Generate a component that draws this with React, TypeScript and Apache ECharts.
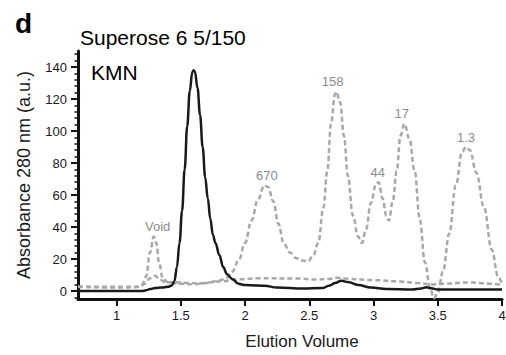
import React, { useEffect, useRef } from "react";
import * as echarts from "echarts";

// KMN sample (black solid)
const kmnX = [0.7, 1.0, 1.2, 1.23, 1.26, 1.3, 1.35, 1.4, 1.43, 1.45, 1.47, 1.49, 1.51, 1.53, 1.55, 1.57, 1.59, 1.6, 1.61, 1.63, 1.65, 1.67, 1.69, 1.71, 1.73, 1.75, 1.77, 1.8, 1.83, 1.86, 1.9, 1.95, 2.0, 2.1, 2.15, 2.25, 2.45, 2.6, 2.66, 2.7, 2.75, 2.8, 2.88, 2.98, 3.1, 3.3, 3.37, 3.41, 3.45, 3.5, 3.7, 4.0];
const kmnY = [0, 0, 0, 0.4, 1.2, 1.8, 2.2, 2.6, 3.5, 6, 15, 30, 50, 76, 103, 125, 137, 138, 137, 127, 110, 90, 71, 58, 45, 35, 30, 22.5, 15, 10.5, 7.5, 4.5, 3.7, 3.4, 3.3, 2.2, 1.5, 1.8, 3.5, 5, 6.4, 5.6, 3.8, 2.2, 1.3, 1.0, 1.6, 2.4, 1.7, 1.0, 0.9, 0.9];

// Gel filtration standards (grey dashed)
const stdX = [0.7, 1.0, 1.15, 1.2, 1.23, 1.26, 1.29, 1.31, 1.33, 1.36, 1.4, 1.45, 1.5, 1.6, 1.7, 1.8, 1.85, 1.9, 1.95, 2.0, 2.05, 2.1, 2.15, 2.18, 2.22, 2.26, 2.3, 2.35, 2.4, 2.45, 2.49, 2.53, 2.57, 2.61, 2.64, 2.67, 2.7, 2.71, 2.74, 2.77, 2.8, 2.84, 2.88, 2.91, 2.94, 2.98, 3.02, 3.04, 3.07, 3.1, 3.12, 3.15, 3.18, 3.21, 3.24, 3.28, 3.32, 3.36, 3.4, 3.44, 3.47, 3.5, 3.54, 3.59, 3.64, 3.69, 3.72, 3.75, 3.8, 3.86, 3.92, 3.97, 4.0];
const stdY = [2.5, 2.2, 2.3, 4, 9, 24, 34, 30, 18, 8, 5.5, 4.8, 4.5, 4.2, 5, 6.5, 8, 12, 19, 30, 44, 57, 66, 65, 56, 42, 30, 24, 20.5, 19, 18.5, 22, 30, 52, 75, 105, 123, 124.5, 118, 97, 72, 47, 34, 30, 38, 55, 67, 68, 58, 47, 44, 56, 75, 97, 104.5, 95, 75, 45, 18, 2, -4.5, -1, 12, 36, 66, 87, 90, 88, 74, 52, 26, 9, 4];

// Buffer baseline (grey dashed)
const baseX = [0.7, 1.0, 1.18, 1.22, 1.26, 1.3, 1.34, 1.38, 1.45, 1.55, 1.65, 1.8, 1.95, 2.1, 2.4, 2.55, 2.65, 2.72, 2.8, 3.0, 3.2, 3.35, 3.45, 3.55, 3.75, 3.9, 4.0];
const baseY = [2.8, 2.6, 2.6, 4.5, 8, 9.5, 7, 5.5, 5.5, 5, 4.8, 6, 7.3, 8, 7.8, 7.2, 7.5, 8.3, 7.6, 6.8, 6, 5, 4, 4.6, 5.4, 4.6, 3.8];

// Peak annotations
const peakNames = ["Void", "670", "158", "44", "17", "1.3"];
const peakX = [1.32, 2.17, 2.682, 3.033, 3.219, 3.72];
const peakY = [34, 66, 124.5, 68, 104.5, 90];

const xTicks = [1, 1.5, 2, 2.5, 3, 3.5, 4];
const yTicks = [0, 20, 40, 60, 80, 100, 120, 140];

const zip = (xs: number[], ys: number[]) => xs.map((x, i) => [x, ys[i]]);

export default function App() {
  const ref = useRef<HTMLDivElement>(null);
  useEffect(() => {
    document.body.style.margin = "0";
    if (!ref.current) return;
    const chart = echarts.init(ref.current, null, { renderer: "svg" });
    const minorTicks: number[] = [];
    for (let v = -4; v <= 148; v += 4) if (v % 20 !== 0) minorTicks.push(v);
    const font = "'Liberation Sans', Arial, sans-serif";
    const grey = "#a8a8a8";
    const labelGrey = "#8c8c8c";
    chart.setOption({
      animation: false,
      textStyle: { fontFamily: font },
      grid: { left: 78, right: 4, top: 51, bottom: 56, outerBoundsMode: "none" },
      xAxis: {
        type: "value",
        min: 0.7,
        max: 4,
        name: "Elution Volume",
        nameLocation: "middle",
        nameGap: 34,
        nameTextStyle: { fontSize: 17, color: "#1a1a1a", fontFamily: font, padding: [0, 0, 0, 24] },
        axisLine: { onZero: false, lineStyle: { color: "#111", width: 3 } },
        axisTick: { customValues: xTicks, length: 7, lineStyle: { color: "#111", width: 2 } },
        axisLabel: { customValues: xTicks, fontSize: 13, color: "#1a1a1a", margin: 10, fontFamily: font },
        splitLine: { show: false },
      },
      yAxis: [
        {
          type: "value",
          min: -5,
          max: 150,
          name: "Absorbance 280 nm (a.u.)",
          nameLocation: "middle",
          nameGap: 45,
          nameTextStyle: { fontSize: 18, color: "#1a1a1a", fontFamily: font },
          axisLine: { show: true, onZero: false, lineStyle: { color: "#111", width: 3 } },
          axisTick: { customValues: yTicks, length: 7, lineStyle: { color: "#111", width: 2 } },
          axisLabel: { customValues: yTicks, fontSize: 13, color: "#1a1a1a", margin: 11, fontFamily: font },
          splitLine: { show: false },
        },
        {
          type: "value",
          min: -5,
          max: 150,
          position: "left",
          axisLine: { show: false, onZero: false },
          axisTick: { show: true, customValues: minorTicks, length: 3.5, lineStyle: { color: "#111", width: 1.5 } },
          axisLabel: { show: false },
          splitLine: { show: false },
        },
      ],
      graphic: [
        { type: "text", left: 15, top: 9, style: { text: "d", fontSize: 28, fontWeight: "bold", fill: "#000", fontFamily: font } },
        { type: "text", x: 80, y: 37, style: { text: "Superose 6 5/150", fontSize: 21, fill: "#000", fontFamily: font, verticalAlign: "middle" } },
        { type: "text", x: 91, y: 72, style: { text: "KMN", fontSize: 21, fill: "#000", fontFamily: font, verticalAlign: "middle" } },
      ],
      series: [
        {
          type: "line",
          data: zip(baseX, baseY),
          showSymbol: false,
          smooth: 0.4,
          smoothMonotone: "x",
          lineStyle: { color: grey, width: 2.5, type: [5, 3] },
          z: 2,
        },
        {
          type: "line",
          data: zip(stdX, stdY),
          showSymbol: false,
          smooth: 0.4,
          smoothMonotone: "x",
          lineStyle: { color: grey, width: 2.5, type: [5, 3] },
          z: 2,
        },
        {
          type: "line",
          data: zip(kmnX, kmnY),
          showSymbol: false,
          smooth: 0.4,
          smoothMonotone: "x",
          lineStyle: { color: "#1a1a1a", width: 2.5 },
          z: 3,
        },
        {
          type: "scatter",
          data: peakNames.map((n, i) => [peakX[i], peakY[i], n]),
          symbolSize: 1,
          silent: true,
          itemStyle: { color: labelGrey, opacity: 0 },
          label: {
            show: true,
            position: "top",
            distance: 3,
            formatter: (p: any) => p.data[2],
            fontSize: 13,
            color: labelGrey,
            textBorderWidth: 0,
            opacity: 1,
            fontFamily: font,
          },
          z: 4,
        },
      ],
    });
    return () => chart.dispose();
  }, []);
  return <div ref={ref} style={{ width: 506, height: 355 }} />;
}
